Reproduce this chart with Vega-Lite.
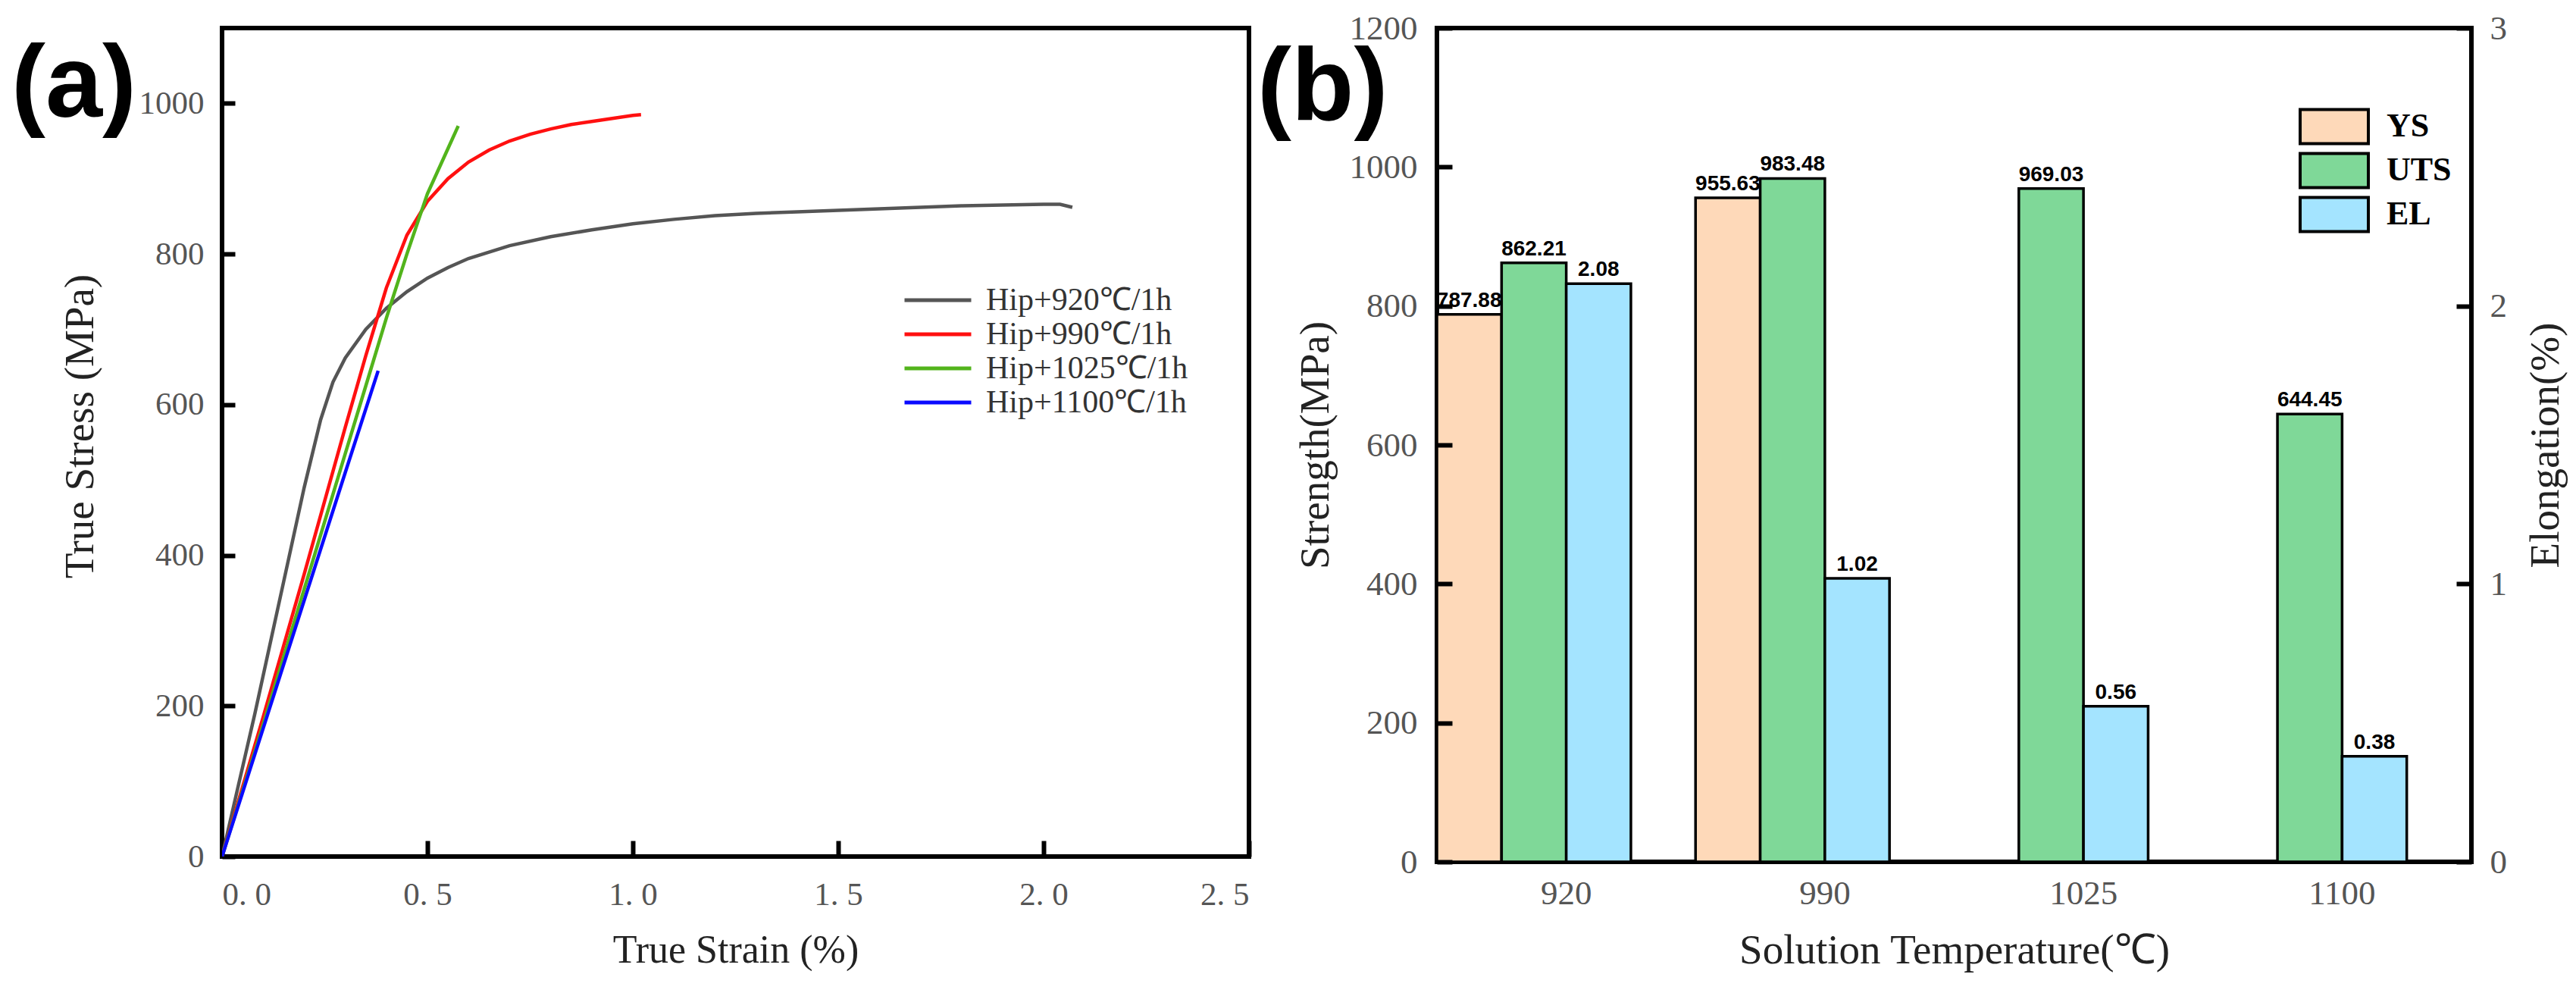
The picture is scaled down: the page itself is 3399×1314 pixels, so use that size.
{
  "$schema": "https://vega.github.io/schema/vega-lite/v6.json",
  "padding": {"left": 12, "top": 12, "right": 5, "bottom": 5},
  "background": "white",
  "datasets": {
    "curves": [
      {"series": "Hip+920℃/1h", "strain": 0, "stress": 0},
      {"series": "Hip+920℃/1h", "strain": 0.04, "stress": 95},
      {"series": "Hip+920℃/1h", "strain": 0.08, "stress": 190},
      {"series": "Hip+920℃/1h", "strain": 0.12, "stress": 290},
      {"series": "Hip+920℃/1h", "strain": 0.16, "stress": 390},
      {"series": "Hip+920℃/1h", "strain": 0.2, "stress": 490},
      {"series": "Hip+920℃/1h", "strain": 0.24, "stress": 580},
      {"series": "Hip+920℃/1h", "strain": 0.27, "stress": 630},
      {"series": "Hip+920℃/1h", "strain": 0.3, "stress": 662},
      {"series": "Hip+920℃/1h", "strain": 0.35, "stress": 700},
      {"series": "Hip+920℃/1h", "strain": 0.4, "stress": 728},
      {"series": "Hip+920℃/1h", "strain": 0.45, "stress": 750},
      {"series": "Hip+920℃/1h", "strain": 0.5, "stress": 768},
      {"series": "Hip+920℃/1h", "strain": 0.55, "stress": 782},
      {"series": "Hip+920℃/1h", "strain": 0.6, "stress": 794},
      {"series": "Hip+920℃/1h", "strain": 0.7, "stress": 811},
      {"series": "Hip+920℃/1h", "strain": 0.8, "stress": 823},
      {"series": "Hip+920℃/1h", "strain": 0.9, "stress": 832},
      {"series": "Hip+920℃/1h", "strain": 1.0, "stress": 840},
      {"series": "Hip+920℃/1h", "strain": 1.1, "stress": 846},
      {"series": "Hip+920℃/1h", "strain": 1.2, "stress": 851},
      {"series": "Hip+920℃/1h", "strain": 1.3, "stress": 854},
      {"series": "Hip+920℃/1h", "strain": 1.4, "stress": 856},
      {"series": "Hip+920℃/1h", "strain": 1.5, "stress": 858},
      {"series": "Hip+920℃/1h", "strain": 1.6, "stress": 860},
      {"series": "Hip+920℃/1h", "strain": 1.7, "stress": 862},
      {"series": "Hip+920℃/1h", "strain": 1.8, "stress": 864},
      {"series": "Hip+920℃/1h", "strain": 1.9, "stress": 865},
      {"series": "Hip+920℃/1h", "strain": 2.0, "stress": 866},
      {"series": "Hip+920℃/1h", "strain": 2.04, "stress": 866},
      {"series": "Hip+920℃/1h", "strain": 2.07, "stress": 862},
      {"series": "Hip+990℃/1h", "strain": 0, "stress": 0},
      {"series": "Hip+990℃/1h", "strain": 0.1, "stress": 185},
      {"series": "Hip+990℃/1h", "strain": 0.2, "stress": 375},
      {"series": "Hip+990℃/1h", "strain": 0.3, "stress": 570},
      {"series": "Hip+990℃/1h", "strain": 0.35, "stress": 665},
      {"series": "Hip+990℃/1h", "strain": 0.4, "stress": 755},
      {"series": "Hip+990℃/1h", "strain": 0.45, "stress": 825},
      {"series": "Hip+990℃/1h", "strain": 0.5, "stress": 870},
      {"series": "Hip+990℃/1h", "strain": 0.55, "stress": 900},
      {"series": "Hip+990℃/1h", "strain": 0.6, "stress": 922},
      {"series": "Hip+990℃/1h", "strain": 0.65, "stress": 938},
      {"series": "Hip+990℃/1h", "strain": 0.7, "stress": 950},
      {"series": "Hip+990℃/1h", "strain": 0.75, "stress": 959},
      {"series": "Hip+990℃/1h", "strain": 0.8, "stress": 966},
      {"series": "Hip+990℃/1h", "strain": 0.85, "stress": 972},
      {"series": "Hip+990℃/1h", "strain": 0.9, "stress": 976},
      {"series": "Hip+990℃/1h", "strain": 0.95, "stress": 980},
      {"series": "Hip+990℃/1h", "strain": 1.0, "stress": 984},
      {"series": "Hip+990℃/1h", "strain": 1.02, "stress": 985},
      {"series": "Hip+1025℃/1h", "strain": 0, "stress": 0},
      {"series": "Hip+1025℃/1h", "strain": 0.1, "stress": 175},
      {"series": "Hip+1025℃/1h", "strain": 0.2, "stress": 355},
      {"series": "Hip+1025℃/1h", "strain": 0.3, "stress": 535},
      {"series": "Hip+1025℃/1h", "strain": 0.35, "stress": 625},
      {"series": "Hip+1025℃/1h", "strain": 0.4, "stress": 715},
      {"series": "Hip+1025℃/1h", "strain": 0.45, "stress": 800},
      {"series": "Hip+1025℃/1h", "strain": 0.5, "stress": 880},
      {"series": "Hip+1025℃/1h", "strain": 0.55, "stress": 940},
      {"series": "Hip+1025℃/1h", "strain": 0.575, "stress": 970},
      {"series": "Hip+1100℃/1h", "strain": 0, "stress": 0},
      {"series": "Hip+1100℃/1h", "strain": 0.1, "stress": 170},
      {"series": "Hip+1100℃/1h", "strain": 0.2, "stress": 340},
      {"series": "Hip+1100℃/1h", "strain": 0.3, "stress": 510},
      {"series": "Hip+1100℃/1h", "strain": 0.38, "stress": 645}
    ],
    "props": [
      {"temp": "920", "measure": "YS", "value": 787.88},
      {"temp": "920", "measure": "UTS", "value": 862.21},
      {"temp": "920", "measure": "EL", "value": 2.08},
      {"temp": "990", "measure": "YS", "value": 955.63},
      {"temp": "990", "measure": "UTS", "value": 983.48},
      {"temp": "990", "measure": "EL", "value": 1.02},
      {"temp": "1025", "measure": "UTS", "value": 969.03},
      {"temp": "1025", "measure": "EL", "value": 0.56},
      {"temp": "1100", "measure": "UTS", "value": 644.45},
      {"temp": "1100", "measure": "EL", "value": 0.38}
    ]
  },
  "hconcat": [
    {
      "width": 1355,
      "height": 1093,
      "title": {"text": "(a)", "orient": "top", "anchor": "start", "frame": "bounds", "font": "Liberation Sans", "fontSize": 135, "fontWeight": "bold", "color": "black", "offset": 0, "dx": -63, "dy": 145},
      "data": {"name": "curves"},
      "mark": {"type": "line", "strokeWidth": 4.5, "clip": true},
      "encoding": {
        "x": {
          "field": "strain", "type": "quantitative",
          "scale": {"domain": [0, 2.5], "nice": false, "zero": false},
          "axis": {"title": "True Strain (%)", "values": [0, 0.5, 1, 1.5, 2, 2.5], "labelExpr": "replace(format(datum.value, '.1f'), '.', '. ')", "domain": false, "grid": false, "ticks": true, "tickColor": "black", "tickWidth": 6, "tickSize": -21, "labelPadding": 50, "labelFontSize": 43, "titleFontSize": 52, "titlePadding": 26}
        },
        "y": {
          "field": "stress", "type": "quantitative",
          "scale": {"domain": [0, 1100], "nice": false},
          "axis": {"title": "True Stress (MPa)", "values": [0, 200, 400, 600, 800, 1000], "format": "d", "domain": false, "grid": false, "ticks": true, "tickColor": "black", "tickWidth": 6, "tickSize": -17, "labelPadding": 41, "labelFontSize": 43, "titleFontSize": 55, "titlePadding": 49, "titleY": 525}
        },
        "color": {
          "field": "series", "type": "nominal",
          "scale": {"domain": ["Hip+920℃/1h", "Hip+990℃/1h", "Hip+1025℃/1h", "Hip+1100℃/1h"], "range": ["#555555", "#ff1010", "#52b41c", "#0a0aff"]},
          "legend": {"title": null, "orient": "none", "legendX": 898, "legendY": 337, "symbolType": "stroke", "symbolSize": 7744, "symbolStrokeWidth": 5, "clipHeight": 44, "labelFont": "Liberation Serif", "labelFontSize": 42, "labelColor": "#333333", "labelOffset": 17, "rowPadding": 1, "padding": 0, "labelLimit": 600}
        }
      }
    },
    {
      "width": 1365,
      "height": 1100,
      "title": {"text": "(b)", "orient": "top", "anchor": "start", "frame": "bounds", "font": "Liberation Sans", "fontSize": 135, "fontWeight": "bold", "color": "black", "offset": 0, "dx": -49, "dy": 171},
      "data": {"name": "props"},
      "encoding": {
        "x": {
          "field": "temp", "type": "nominal", "sort": ["920", "990", "1025", "1100"],
          "scale": {"paddingInner": 0, "paddingOuter": 0},
          "axis": {"title": "Solution Temperature(℃)", "labelAngle": 0, "domain": false, "grid": false, "ticks": false, "labelPadding": 19, "labelFontSize": 45, "titleFontSize": 55, "titlePadding": 26}
        },
        "xOffset": {
          "field": "measure", "type": "nominal",
          "scale": {"domain": ["YS", "UTS", "EL"], "paddingInner": 0, "paddingOuter": 0.5, "align": 0}
        },
        "color": {
          "field": "measure", "type": "nominal",
          "scale": {"domain": ["YS", "UTS", "EL"], "range": ["#fed9b9", "#7fd898", "#a4e4ff"]},
          "legend": {"title": null, "orient": "none", "legendX": 1137, "legendY": 105, "symbolType": "M-1,-0.5H1V0.5H-1Z", "symbolSize": 8100, "symbolStrokeColor": "black", "symbolStrokeWidth": 4, "symbolOpacity": 1, "clipHeight": 50, "labelFont": "Liberation Serif", "labelFontWeight": "bold", "labelFontSize": 44, "labelColor": "black", "labelOffset": 22, "rowPadding": 8, "padding": 0}
        }
      },
      "layer": [
        {
          "transform": [{"filter": "datum.measure !== 'EL'"}],
          "encoding": {
            "y": {
              "field": "value", "type": "quantitative",
              "scale": {"domain": [0, 1200], "nice": false},
              "axis": {"title": "Strength(MPa)", "values": [0, 200, 400, 600, 800, 1000, 1200], "format": "d", "domain": false, "grid": false, "ticks": true, "tickColor": "black", "tickWidth": 6, "tickSize": -20, "labelPadding": 46, "labelFontSize": 45, "titleFontSize": 55, "titlePadding": 16, "zindex": 1}
            }
          },
          "layer": [
            {"mark": {"type": "bar", "stroke": "black", "strokeWidth": 3.5}},
            {"mark": {"type": "text", "baseline": "bottom", "dy": -4, "font": "Liberation Sans", "fontWeight": "bold", "fontSize": 28},
             "encoding": {"text": {"field": "value", "type": "quantitative", "format": ".2f"}, "color": {"value": "black"}}}
          ]
        },
        {
          "transform": [{"filter": "datum.measure === 'EL'"}],
          "encoding": {
            "y": {
              "field": "value", "type": "quantitative",
              "scale": {"domain": [0, 3], "nice": false},
              "axis": {"orient": "right", "title": "Elongation(%)", "values": [0, 1, 2, 3], "format": "d", "domain": false, "grid": false, "ticks": true, "tickColor": "black", "tickWidth": 6, "tickSize": -20, "labelPadding": 44, "labelFontSize": 45, "titleFontSize": 55, "titlePadding": 25, "titleAngle": 270, "titleBaseline": "top"}
            }
          },
          "layer": [
            {"mark": {"type": "bar", "stroke": "black", "strokeWidth": 3.5}},
            {"mark": {"type": "text", "baseline": "bottom", "dy": -4, "font": "Liberation Sans", "fontWeight": "bold", "fontSize": 28},
             "encoding": {"text": {"field": "value", "type": "quantitative", "format": ".2f"}, "color": {"value": "black"}}}
          ]
        }
      ],
      "resolve": {"scale": {"y": "independent"}}
    }
  ],
  "spacing": 2,
  "resolve": {"scale": {"color": "independent", "x": "independent", "y": "independent"}, "legend": {"color": "independent"}},
  "config": {
    "view": {"stroke": "black", "strokeWidth": 6},
    "font": "Liberation Serif",
    "axis": {"labelFont": "Liberation Serif", "labelColor": "#555555", "titleFont": "Liberation Serif", "titleColor": "#222222", "titleFontWeight": "normal"},
    "title": {"font": "Liberation Sans"}
  }
}
